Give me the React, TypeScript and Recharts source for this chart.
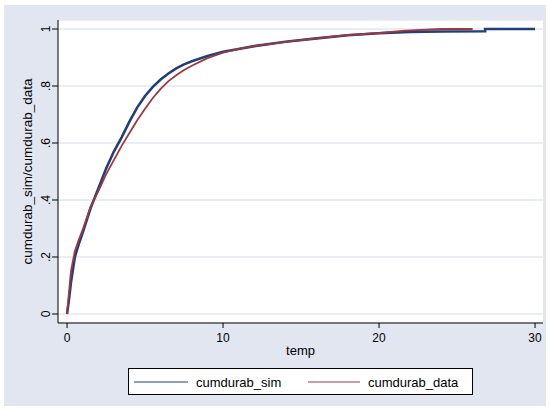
import { CartesianGrid, Label, Legend, Line, LineChart, XAxis, YAxis } from "recharts"

// cumulative duration curves
const simTemp = [0, 0.1, 0.25, 0.5, 0.75, 1, 1.5, 2, 2.5, 3, 3.5, 4, 4.5, 5, 5.5, 6, 6.5, 7, 7.5, 8, 9, 10, 11, 12, 14, 16, 18, 20, 22, 24, 26.8, 26.8, 30]
const simValues = [0, 0.04, 0.11, 0.2, 0.245, 0.285, 0.37, 0.44, 0.51, 0.57, 0.62, 0.675, 0.725, 0.765, 0.797, 0.823, 0.844, 0.862, 0.876, 0.887, 0.905, 0.92, 0.93, 0.94, 0.955, 0.967, 0.978, 0.985, 0.99, 0.991, 0.992, 1, 1]

const dataTemp = [0, 0.1, 0.25, 0.5, 0.75, 1, 1.5, 2, 2.5, 3, 3.5, 4, 4.5, 5, 5.5, 6, 6.5, 7, 7.5, 8, 9, 10, 11, 12, 14, 16, 18, 20, 21.7, 24, 26]
const dataValues = [0, 0.06, 0.15, 0.22, 0.26, 0.295, 0.375, 0.43, 0.49, 0.54, 0.59, 0.635, 0.68, 0.72, 0.758, 0.79, 0.817, 0.838, 0.856, 0.871, 0.898, 0.917, 0.93, 0.94, 0.955, 0.967, 0.979, 0.986, 0.994, 1, 1]

const xTicks = [0, 10, 20, 30]
const yTicks = [0, 0.2, 0.4, 0.6, 0.8, 1]

const simSeries = simTemp.map((t, i) => ({ t, v: simValues[i] }))
const dataSeries = dataTemp.map((t, i) => ({ t, v: dataValues[i] }))

const FONT = "'Liberation Sans', Arial, sans-serif"
const BLUE = "#223f78"
const RED = "#9a3a40"

const fmtY = (v: number) => (v === 0 ? "0" : v === 1 ? "1" : String(v).replace(/^0/, ""))

function YTick({ x, y, payload }: any) {
    return (
        <text x={x} y={y} transform={`rotate(-90, ${x}, ${y})`} textAnchor="middle" fontSize={12} fontFamily={FONT} fill="#000">
            {fmtY(payload.value)}
        </text>
    )
}

function LegendBox() {
    return (
        <div style={{ width: 345, height: 27, boxSizing: "border-box", border: "1px solid #000", background: "#fff", position: "relative", fontFamily: FONT, fontSize: 13, color: "#000" }}>
            <svg width={345} height={25} style={{ position: "absolute", left: 0, top: 0 }}>
                <line x1={5} x2={59} y1={13} y2={13} stroke={BLUE} strokeWidth={1.2} />
                <line x1={179} x2={231} y1={13} y2={13} stroke={RED} strokeWidth={1.2} />
                <text x={67} y={17.5} fontSize={13} fontFamily={FONT}>cumdurab_sim</text>
                <text x={239} y={17.5} fontSize={13} fontFamily={FONT}>cumdurab_data</text>
            </svg>
        </div>
    )
}

export default function App() {
    return (
        <div style={{ position: "absolute", left: 0, top: 0, width: 550, height: 410, background: "#fff" }}>
            <div style={{ position: "absolute", left: 4, top: 5, width: 542, height: 401, background: "#e2e6f0" }} />
            <div style={{ position: "absolute", left: 0, top: 0 }}>
                <LineChart width={550} height={410} margin={{ top: 20, right: 7, bottom: 47, left: 8 }}>
                    <CartesianGrid vertical={false} stroke="#e3e8f0" strokeWidth={1.5} fill="#fff" />
                    <XAxis
                        type="number"
                        dataKey="t"
                        domain={[-0.58, 30.51]}
                        ticks={xTicks}
                        height={40}
                        stroke="#000"
                        tickSize={5}
                        tickMargin={5}
                        tick={{ fill: "#000", fontSize: 12, fontFamily: FONT }}
                        allowDuplicatedCategory={false}
                    >
                        <Label
                            content={({ viewBox }: any) => (
                                <text x={viewBox.x + viewBox.width / 2} y={viewBox.y + 32} textAnchor="middle" fontSize={13} fontFamily={FONT} fill="#000">
                                    temp
                                </text>
                            )}
                        />
                    </XAxis>
                    <YAxis
                        type="number"
                        domain={[-0.0316, 1.0316]}
                        ticks={yTicks}
                        width={50}
                        stroke="#000"
                        tickSize={6}
                        tickMargin={2}
                        tick={<YTick />}
                    >
                        <Label
                            content={({ viewBox }: any) => {
                                const cx = viewBox.x + 24
                                const cy = viewBox.y + viewBox.height / 2
                                return (
                                    <text x={cx} y={cy} transform={`rotate(-90, ${cx}, ${cy})`} textAnchor="middle" fontSize={13.5} fontFamily={FONT} fill="#000">
                                        cumdurab_sim/cumdurab_data
                                    </text>
                                )
                            }}
                        />
                    </YAxis>
                    <Legend
                        layout="horizontal"
                        verticalAlign="middle"
                        align="center"
                        content={() => <LegendBox />}
                        wrapperStyle={{ left: 128, top: 368, width: 345, height: 27 }}
                    />
                    <Line data={simSeries} dataKey="v" name="cumdurab_sim" type="linear" stroke={BLUE} strokeWidth={2.6} dot={false} isAnimationActive={false} />
                    <Line data={dataSeries} dataKey="v" name="cumdurab_data" type="linear" stroke={RED} strokeWidth={1.8} dot={false} isAnimationActive={false} />
                </LineChart>
            </div>
        </div>
    )
}
